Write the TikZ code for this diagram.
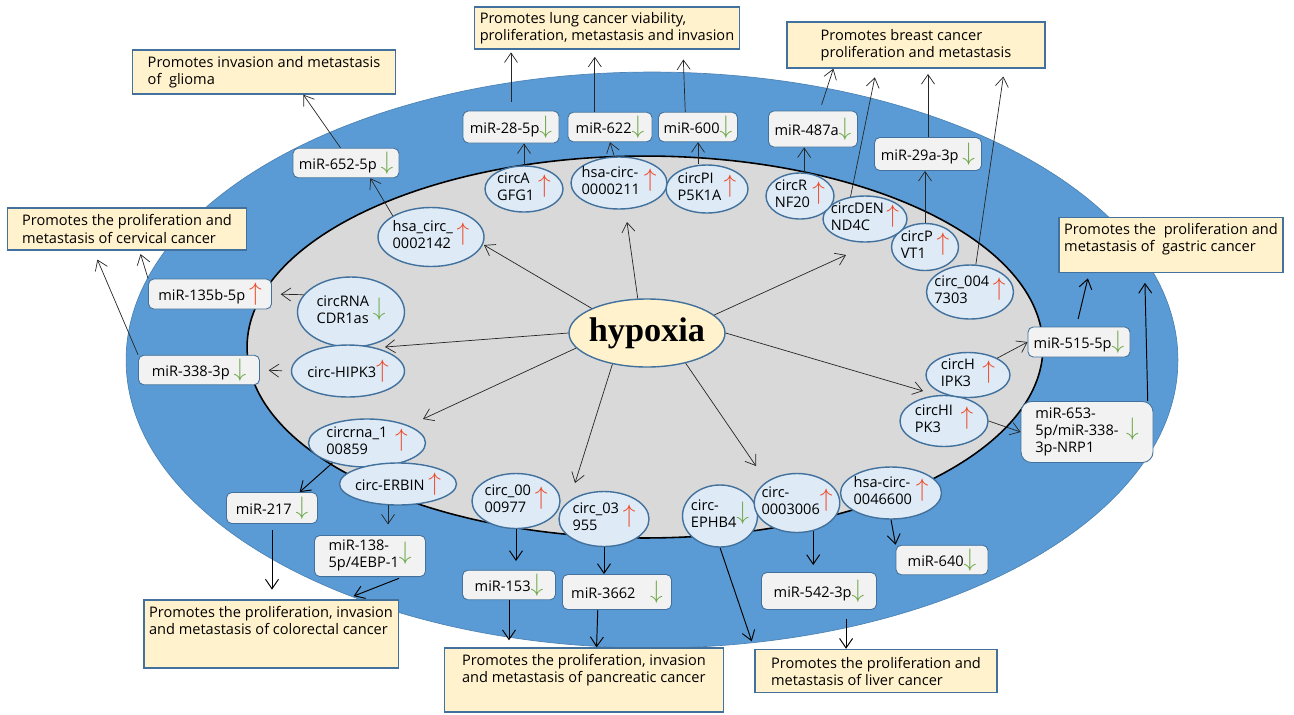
\documentclass[tikz,border=0pt]{standalone}
\usepackage{fontspec}
\setmainfont{Open Sans}
\newfontfamily\hypfont{Liberation Serif}
\usetikzlibrary{arrows.meta, shapes.geometric}
\definecolor{ring}{HTML}{5B9BD5}
\definecolor{core}{HTML}{D9D9D9}
\definecolor{edge}{HTML}{41719C}
\definecolor{circfill}{HTML}{DEEBF7}
\definecolor{mirfill}{HTML}{F2F2F2}
\definecolor{effectfill}{HTML}{FFF2CC}
\definecolor{upred}{HTML}{EE4B2B}
\definecolor{dngreen}{HTML}{6FA84A}
\newcommand\incr{\textcolor{upred}{\fontsize{15}{15}\selectfont$\uparrow$}}
\newcommand\decr{\textcolor{dngreen}{\fontsize{15}{15}\selectfont$\downarrow$}}
\newcommand\twoline[1]{\begin{tabular}{@{}l@{}}#1\end{tabular}}

\begin{document}
\begin{tikzpicture}[x=0.02cm, y=-0.02cm, font=\fontsize{8.3}{9.7}\selectfont,
    >={Straight Barb[length=1.9mm, width=2.6mm]},
    sz/.style 2 args={minimum width=#1*0.02cm, minimum height=#2*0.02cm},
    circ/.style={ellipse, draw=edge, fill=circfill, thick, inner sep=-3pt},
    mir/.style={draw=edge, fill=mirfill, line width=0.5pt, rounded corners=3pt, inner sep=2pt},
    outcome/.style={draw=edge, fill=effectfill, thick, align=left, inner sep=3pt},
    ln/.style={->, black!85, thin},
    lnk/.style={->, black, line width=0.55pt}]

  \useasboundingbox (0,0) rectangle (1294,714);

  % cell layers
  \filldraw[fill=ring, draw=ring!85!black, thin] (652,360) ellipse [x radius=10.52cm, y radius=5.76cm];
  \filldraw[fill=core, draw=black, line width=0.9pt] (645,347) ellipse [x radius=7.96cm, y radius=3.82cm];

  \node[ellipse, draw=edge, fill=effectfill, thick, sz={156}{68}, inner sep=-3pt,
    font=\hypfont\bfseries\fontsize{19.5}{22}\selectfont] (hyp) at (647,333) {hypoxia};

  % circRNAs
  \node[circ, sz={106}{59}] (c0002142) at (431,237) {\twoline{hsa\_circ\_\\0002142}\ \incr};
  \node[circ, sz={107}{70}] (cdr1as) at (351,312) {\twoline{circRNA\\CDR1as}\ \decr};
  \node[circ, sz={113}{52}] (hipk3a) at (348,371) {circ-HIPK3\incr};
  \node[circ, sz={117}{48}] (c100859) at (367,443) {\twoline{circrna\_1\\00859}\ \ \incr};
  \node[circ, sz={117}{42}] (erbin) at (398,484) {circ-ERBIN\ \incr};
  \node[circ, sz={88}{55}] (c0000977) at (516,501) {\twoline{circ\_00\\00977}\ \incr};
  \node[circ, sz={90}{55}] (c03955) at (604,519) {\twoline{circ\_03\\955}\ \incr};
  \node[circ, sz={75}{62}] (ephb4) at (720,516) {\twoline{circ-\\EPHB4}\decr};
  \node[circ, sz={79}{59}] (c3006) at (797,503) {\twoline{circ-\\0003006}\incr};
  \node[circ, sz={101}{52}] (c46600) at (891,493) {\twoline{hsa-circ-\\0046600}\ \incr};
  \node[circ, sz={88}{51}] (hipk3c) at (944,421) {\twoline{circHI\\PK3}\ \ \incr};
  \node[circ, sz={84}{45}] (hipk3b) at (968,375) {\twoline{circH\\IPK3}\ \ \incr};
  \node[circ, sz={87}{54}] (c7303) at (970,292) {\twoline{circ\_004\\7303}\ \incr};
  \node[circ, sz={67}{47}] (pvt1) at (925,247) {\twoline{circP\\VT1}\ \incr};
  \node[circ, sz={84}{46}] (dennd4c) at (865,219) {\twoline{circDEN\\ND4C}\,\incr};
  \node[circ, sz={68}{46}] (rnf20) at (800,196) {\twoline{circR\\NF20}\,\incr};
  \node[circ, sz={82}{48}] (pip5k1a) at (707,189) {\twoline{circPI\\P5K1A}\,\incr};
  \node[circ, sz={96}{52}] (c0000211) at (619,183) {\twoline{hsa-circ-\\0000211}\ \incr};
  \node[circ, sz={78}{46}] (agfg1) at (524,189) {\twoline{circA\\GFG1}\ \incr};

  % miRNAs
  \node[mir, sz={106}{26}] (m652) at (346,163) {miR-652-5p \decr};
  \node[mir, sz={96}{32}] (m28) at (511,127) {miR-28-5p\decr};
  \node[mir, sz={84}{29}] (m622) at (610,127) {miR-622\decr};
  \node[mir, sz={79}{29}] (m600) at (698,127) {miR-600\decr};
  \node[mir, sz={89}{36}] (m487) at (813,129) {miR-487a\decr};
  \node[mir, sz={107}{33}] (m29a) at (928,154) {miR-29a-3p \decr};
  \node[mir, sz={102}{30}] (m515) at (1079,342) {miR-515-5p\decr};
  \node[mir, sz={132}{61}, rounded corners=6pt] (m653) at (1087,432) {\twoline{miR-653-\\5p/miR-338-\\3p-NRP1}\ \ \decr};
  \node[mir, sz={92}{29}] (m640) at (942,560) {miR-640\decr};
  \node[mir, sz={115}{37}] (m542) at (819,591) {miR-542-3p\decr};
  \node[mir, sz={109}{35}] (m3662) at (617,592) {miR-3662\quad\decr};
  \node[mir, sz={93}{27}] (m153) at (509,585) {miR-153\decr};
  \node[mir, sz={91}{31}] (m217) at (272,508) {miR-217 \decr};
  \node[mir, sz={111}{33}] (m138) at (370,556) {\twoline{miR-138-\\5p/4EBP-1}\decr};
  \node[mir, sz={121}{28}] (m338) at (199,370) {miR-338-3p \decr};
  \node[mir, sz={123}{30}] (m135) at (210,294) {miR-135b-5p \incr};

  % effects
  \node[outcome, sz={263}{44}] (glioma) at (264,72) {Promotes invasion and metastasis\\of~ glioma};
  \node[outcome, sz={239}{42}] (cervical) at (127,229) {Promotes the proliferation and\\metastasis of cervical cancer};
  \node[outcome, sz={262}{37}] (lung) at (607,28) {Promotes lung cancer viability,\\proliferation, metastasis and invasion};
  \node[outcome, sz={258}{46}] (breast) at (916,45) {Promotes breast cancer\\proliferation and metastasis};
  \node[outcome, sz={222}{55}, text depth=8.2pt] (gastric) at (1171,245) {Promotes the~ proliferation and\\metastasis of~ gastric cancer};
  \node[outcome, sz={251}{68}, text depth=15.6pt] (colorectal) at (271,634) {Promotes the proliferation, invasion\\and metastasis of colorectal cancer};
  \node[outcome, sz={279}{64}, text depth=13.3pt] (pancreatic) at (584,680) {Promotes the proliferation, invasion\\and metastasis of pancreatic cancer};
  \node[outcome, sz={242}{43}] (liver) at (876,671) {Promotes the proliferation and\\metastasis of liver cancer};

  % hypoxia targets
  \coordinate (h1) at (484,245);
  \coordinate (h2) at (385,347);
  \coordinate (h3) at (423,419);
  \coordinate (h4) at (575,483);
  \coordinate (h5) at (756,466);
  \coordinate (h6) at (923,391);
  \coordinate (h7) at (846,255);
  \coordinate (h8) at (627,222);
  \draw[ln] (hyp.156) -- (h1);
  \draw[ln] (hyp.west) -- (h2);
  \draw[ln] (hyp.-168) -- (h3);
  \draw[ln] (hyp.-138) -- (h4);
  \draw[ln] (hyp.-38) -- (h5);
  \draw[ln] (hyp.east) -- (h6);
  \draw[ln] (hyp.15) -- (h7);
  \draw[ln] (hyp.105) -- (h8);

  % circRNA -> miRNA
  \draw[ln] (c0002142.151) -- (m652.-32);
  \draw[ln] (agfg1.north) -- (agfg1.north |- m28.south);
  \draw[ln] (c0000211.100) -- (m622.south);
  \draw[ln] (m600.south |- pip5k1a.north) -- (m600.south);
  \draw[ln] (rnf20.80) -- (rnf20.80 |- m487.south);
  \draw[ln] (pvt1.north) -- (pvt1.north |- m29a.south);
  \draw[ln] (hipk3b.30) -- (m515.west);
  \draw[ln] (hipk3c.east) -- (m653.west);
  \draw[lnk] (c46600.south) -- (m640.north west);
  \draw[lnk, shorten >=4pt] (c3006.-60) -- (c3006.-60 |- m542.north);
  \draw[lnk] (c03955.south) -- (c03955.south |- m3662.north);
  \draw[lnk, shorten >=5pt] (c0000977.south) -- (c0000977.south |- m153.north);
  \draw[ln, shorten >=6pt] (erbin.-115) -- (erbin.-115 |- m138.north);
  \draw[lnk] (c100859.-150) -- (m217.30);
  \draw[ln, shorten <=5pt, shorten >=5pt] (hipk3a.west) -- (m338.east);
  \draw[ln, shorten >=5pt] (cdr1as.160) -- (m135.east);

  % miRNA -> effect
  \draw[ln] (m652.110) -- (glioma.-30);
  \draw[ln, shorten <=5pt, shorten >=1.5pt] (m28.north) -- (m28.north |- lung.south);
  \draw[ln, shorten >=4pt] (m622.135) -- (m622.135 |- lung.south);
  \draw[ln, shorten >=5.5pt] (m600.130) -- (lung.-16);
  \draw[ln, shorten <=3.5pt] (m487.70) -- (breast.-164);
  \draw[ln, shorten >=5pt] (dennd4c.123) -- (breast.-149.5);
  \draw[ln, shorten >=3pt] (m29a.north) -- (m29a.north |- breast.south);
  \draw[ln, shorten >=4.5pt] (c7303.78) -- (breast.-15);
  \draw[lnk, shorten <=4.5pt, shorten >=3pt] (m515.100) -- (gastric.-161);
  \draw[lnk, shorten >=5.5pt] (m653.27) -- (gastric.-133);
  \draw[ln, shorten >=2pt] (m135.north west) -- (cervical.-60);
  \draw[ln, shorten >=5.5pt] (m338.north west) -- (cervical.-147);
  \draw[lnk, shorten <=3.5pt, shorten >=5.5pt] (m217.south) -- (m217.south |- colorectal.north);
  \draw[lnk, shorten <=2pt, shorten >=5pt] (m138.-33) -- (colorectal.25);
  \draw[lnk, shorten >=4pt] (m153.south) -- (m153.south |- pancreatic.north);
  \draw[lnk] (m3662.-137) -- (pancreatic.69);
  \draw[lnk, shorten >=4.5pt] (ephb4.south) -- (liver.north west);
  \draw[lnk, shorten <=5pt] (m542.-35) -- (m542.-35 |- liver.north);
\end{tikzpicture}
\end{document}
